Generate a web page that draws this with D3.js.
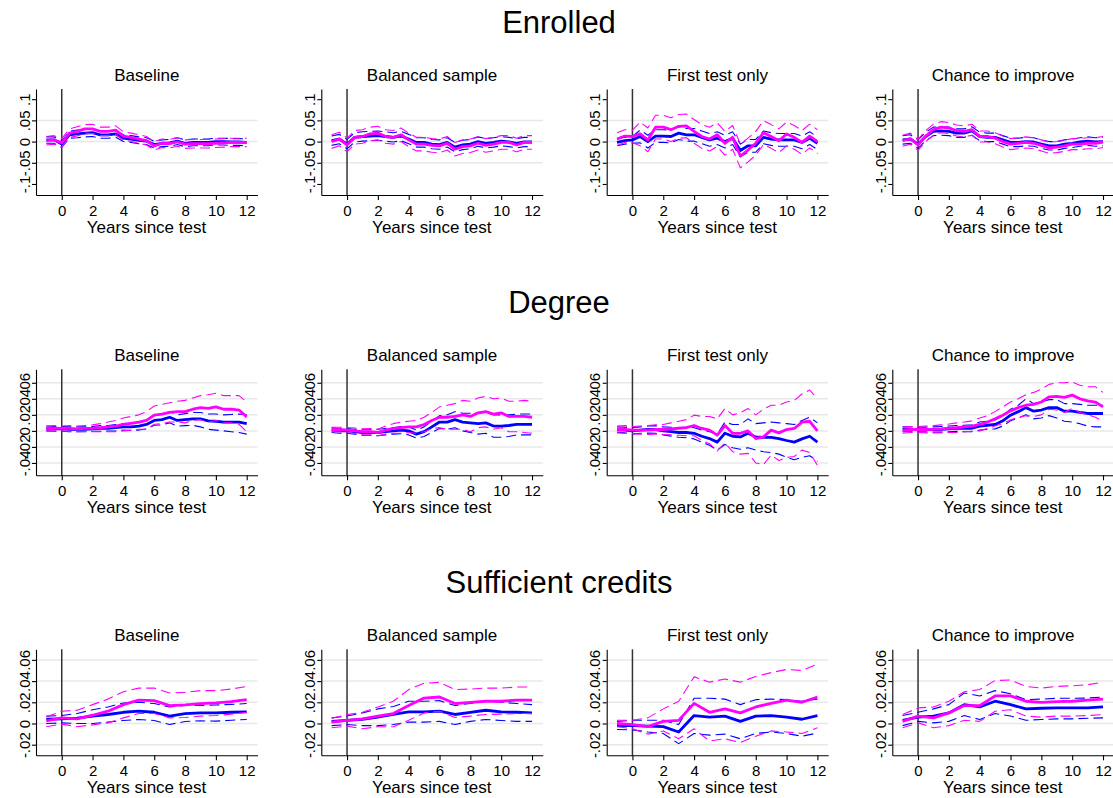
<!DOCTYPE html>
<html>
<head>
<meta charset="utf-8">
<script src="https://cdn.jsdelivr.net/npm/d3@7"></script>
<style>
body { margin: 0; background: #fff; }
svg { display: block; font-family: "Liberation Sans", Arial, sans-serif; }
</style>
</head>
<body>
<div id="chart"></div>
<script>
// x values
var yearsHalf = [-1, -0.5, 0, 0.5, 1, 1.5, 2, 2.5, 3, 3.5, 4, 4.5, 5, 5.5, 6, 6.5, 7, 7.5, 8, 8.5, 9, 9.5, 10, 10.5, 11, 11.5, 12];
var yearsFull = [-1, 0, 1, 2, 3, 4, 5, 6, 7, 8, 9, 10, 11, 12];
var xTicks = [0, 2, 4, 6, 8, 10, 12];

var rowTitles = ["Enrolled", "Degree", "Sufficient credits"];
var colTitles = ["Baseline", "Balanced sample", "First test only", "Chance to improve"];

// y ticks per row
var enrTicks = [-0.1, -0.05, 0, 0.05, 0.1];
var enrTickLabels = ["-.1", "-.05", "0", ".05", ".1"];
var enrGrid = [-0.05, 0, 0.05];
var degTicks = [-0.04, -0.02, 0, 0.02, 0.04, 0.06];
var degTickLabels = ["-.04", "-.02", "0", ".02", ".04", ".06"];
var sufTicks = [-0.02, 0, 0.02, 0.04, 0.06];
var sufTickLabels = ["-.02", "0", ".02", ".04", ".06"];

// ---- Enrolled ----
var enrBaseB   = [.004,.004,-.006,.016,.018,.020,.021,.016,.016,.018,.008,.006,.003,.001,-.007,-.004,-.003,.001,-.004,-.002,-.002,-.002,0,0,-.001,-.001,-.002];
var enrBaseBHi = [.011,.011,.002,.024,.027,.029,.029,.024,.024,.026,.016,.014,.011,.009,.001,.004,.005,.009,.004,.006,.006,.006,.008,.008,.007,.007,.006];
var enrBaseBLo = [-.004,-.004,-.014,.008,.009,.011,.012,.008,.008,.010,0,-.002,-.005,-.007,-.015,-.012,-.011,-.007,-.012,-.010,-.010,-.010,-.008,-.008,-.009,-.009,-.010];
var enrBaseM   = [.002,.004,-.003,.020,.024,.030,.030,.024,.024,.027,.013,.010,.006,.002,-.010,-.004,-.005,-.001,-.006,-.005,-.005,-.005,-.004,-.003,-.002,-.002,-.002];
var enrBaseMHi = [.012,.014,.007,.030,.035,.040,.041,.034,.034,.037,.023,.020,.016,.012,0,.006,.005,.009,.004,.005,.005,.005,.006,.007,.008,.008,.008];
var enrBaseMLo = [-.008,-.006,-.013,.010,.013,.020,.019,.014,.014,.017,.003,0,-.004,-.008,-.020,-.014,-.015,-.011,-.016,-.015,-.015,-.015,-.014,-.013,-.012,-.012,-.012];

var enrBalB   = [.002,.006,-.006,.010,.012,.013,.014,.012,.010,.013,.006,-.002,-.002,-.006,-.007,-.002,-.013,-.008,-.006,0,-.004,-.002,.001,-.001,-.004,-.001,-.001];
var enrBalBHi = [.013,.017,.005,.021,.023,.024,.025,.023,.021,.024,.017,.009,.009,.005,.004,.009,-.002,.003,.005,.011,.007,.009,.012,.010,.007,.010,.010];
var enrBalBLo = [-.009,-.005,-.017,-.001,.001,.002,.003,.001,-.001,.002,-.005,-.013,-.013,-.017,-.018,-.013,-.024,-.019,-.017,-.011,-.015,-.013,-.010,-.012,-.015,-.012,-.012];
var enrBalM   = [0,.006,-.008,.010,.012,.018,.020,.012,.010,.016,.004,-.006,-.006,-.009,-.010,-.004,-.018,-.012,-.010,-.004,-.009,-.006,-.002,-.002,-.008,-.002,-.002];
var enrBalMHi = [.016,.022,.008,.026,.028,.034,.036,.028,.026,.032,.020,.010,.010,.007,.006,.012,-.002,.004,.006,.012,.007,.010,.014,.014,.008,.014,.014];
var enrBalMLo = [-.016,-.010,-.024,-.006,-.004,.002,.004,-.004,-.006,0,-.012,-.022,-.022,-.025,-.026,-.020,-.034,-.028,-.026,-.020,-.025,-.022,-.018,-.018,-.024,-.018,-.018];

var enrFirstB   = [-.002,.002,.004,.012,0,.013,.013,.012,.020,.016,.016,.010,.004,.008,0,.008,-.021,-.010,-.010,.010,.006,.004,.004,.004,-.002,.008,-.004];
var enrFirstBHi = [.006,.010,.012,.027,.015,.028,.028,.027,.035,.031,.031,.025,.019,.023,.015,.023,-.006,.005,.005,.025,.021,.019,.019,.019,.013,.023,.011];
var enrFirstBLo = [-.010,-.006,-.004,-.003,-.015,-.002,-.002,-.003,.005,.001,.001,-.005,-.011,-.007,-.015,-.007,-.036,-.025,-.025,-.005,-.009,-.011,-.011,-.011,-.017,-.007,-.019];
var enrFirstM   = [.006,.013,.012,.018,.004,.034,.034,.028,.036,.037,.024,.012,.006,.016,-.004,.010,-.034,-.020,-.004,.021,.012,.002,.018,.010,-.002,.013,0];
var enrFirstMHi = [.021,.028,.027,.046,.032,.062,.062,.056,.064,.065,.052,.040,.034,.044,.024,.038,-.006,.008,.024,.049,.040,.030,.046,.038,.026,.041,.028];
var enrFirstMLo = [-.009,-.002,-.003,-.010,-.024,.006,.006,0,.008,.009,-.004,-.016,-.022,-.012,-.032,-.018,-.062,-.048,-.032,-.007,-.016,-.026,-.010,-.018,-.030,-.015,-.028];

var enrChanceB   = [.004,.006,-.006,.012,.024,.025,.024,.020,.020,.025,.012,.010,.010,.004,-.002,-.002,0,-.001,-.006,-.010,-.010,-.006,-.004,-.001,.001,-.001,0];
var enrChanceBHi = [.014,.016,.004,.022,.034,.035,.034,.030,.030,.035,.022,.020,.020,.014,.008,.008,.010,.009,.004,0,0,.004,.006,.009,.011,.009,.010];
var enrChanceBLo = [-.006,-.004,-.016,.002,.014,.015,.014,.010,.010,.015,.002,0,0,-.006,-.012,-.012,-.010,-.011,-.016,-.020,-.020,-.016,-.014,-.011,-.009,-.011,-.010];
var enrChanceM   = [.002,.007,-.008,.013,.028,.034,.032,.026,.024,.028,.012,.012,.008,0,-.006,-.004,-.002,-.004,-.009,-.015,-.013,-.010,-.006,-.006,-.004,-.004,-.001];
var enrChanceMHi = [.015,.020,.005,.026,.041,.047,.045,.039,.037,.041,.025,.025,.021,.013,.007,.009,.011,.009,.004,-.002,0,.003,.007,.007,.009,.009,.012];
var enrChanceMLo = [-.011,-.006,-.021,0,.015,.021,.019,.013,.011,.015,-.001,-.001,-.005,-.013,-.019,-.017,-.015,-.017,-.022,-.028,-.026,-.023,-.019,-.019,-.017,-.017,-.014];

// ---- Degree ----
var degBaseB   = [.003,.0025,.0025,.002,.002,.002,.0025,.003,.0033,.004,.005,.005,.006,.008,.013,.014,.017,.013,.014,.015,.015,.0125,.012,.011,.011,.011,.009];
var degBaseBHi = [.006,.0055,.0055,.005,.005,.005,.0055,.0065,.0068,.008,.009,.0095,.011,.0135,.019,.0205,.024,.020,.0215,.023,.023,.021,.021,.020,.0205,.021,.020];
var degBaseBLo = [0,-.0005,-.0005,-.001,-.001,-.001,-.0005,-.0005,-.0002,0,.001,.0005,.001,.0025,.007,.0075,.010,.006,.0065,.007,.005,.002,.001,0,-.001,-.002,-.004];
var degBaseM   = [.003,.0033,.003,.003,.0025,.003,.0033,.004,.005,.006,.008,.0095,.011,.013,.0196,.021,.023,.024,.024,.027,.029,.028,.030,.027,.027,.026,.0175];
var degBaseMHi = [.006,.0065,.006,.0065,.006,.0068,.0075,.009,.011,.013,.016,.018,.020,.024,.031,.033,.035,.037,.038,.041,.044,.045,.047,.044,.044,.044,.036];
var degBaseMLo = [0,0,0,-.0005,-.001,-.0008,-.0009,-.001,-.001,-.001,0,.001,.002,.002,.0082,.009,.011,.011,.010,.013,.014,.011,.013,.010,.010,.008,-.001];

var degBalB   = [.001,0,0,-.001,-.002,-.002,-.002,-.001,0,.001,0,-.004,-.001,.005,.011,.011,.014,.011,.010,.009,.010,.006,.006,.0067,.008,.008,.008];
var degBalBHi = [.004,.003,.003,.002,.0015,.0015,.002,.003,.004,.0055,.005,.001,.005,.012,.019,.020,.024,.022,.022,.022,.023,.020,.020,.020,.021,.021,.021];
var degBalBLo = [-.002,-.003,-.003,-.004,-.0055,-.0055,-.006,-.005,-.004,-.0035,-.005,-.009,-.007,-.002,.003,.002,.004,0,-.002,-.004,-.003,-.008,-.008,-.007,-.005,-.005,-.005];
var degBalM   = [.0017,.0017,.001,0,-.001,-.001,-.002,.001,.003,.004,.005,.005,.008,.013,.017,.017,.018,.020,.018,.0225,.024,.021,.0225,.018,.018,.018,.017];
var degBalMHi = [.0045,.0045,.004,.0035,.0025,.003,.002,.006,.009,.011,.012,.013,.017,.023,.030,.032,.034,.038,.037,.041,.043,.040,.041,.037,.037,.038,.037];
var degBalMLo = [-.001,-.001,-.002,-.0035,-.0045,-.005,-.006,-.004,-.003,-.003,-.002,-.003,-.001,.003,.004,.002,.002,.002,-.001,.004,.005,.002,.004,-.001,-.001,-.002,-.003];

var degFirstB   = [.0017,.001,0,.001,.0017,.0017,0,-.001,-.002,-.002,-.003,-.0067,-.0096,-.014,-.003,-.0067,-.0075,-.003,-.0075,-.008,-.008,-.0096,-.012,-.014,-.010,-.0067,-.014];
var degFirstBHi = [.005,.0045,.004,.005,.006,.0065,.005,.0045,.004,.0045,.004,.001,-.001,-.004,.011,.008,.008,.015,.009,.010,.011,.010,.009,.008,.013,.017,.010];
var degFirstBLo = [-.0015,-.0025,-.004,-.003,-.0027,-.003,-.005,-.0065,-.008,-.0085,-.010,-.014,-.018,-.024,-.017,-.021,-.023,-.021,-.024,-.026,-.027,-.029,-.033,-.036,-.033,-.031,-.038];
var degFirstM   = [.0017,.0017,.001,.001,.001,.0017,.0017,.0025,.0033,.004,.0067,.003,.001,-.0054,.0067,-.003,-.003,0,-.0096,-.0075,.001,-.0025,.0017,.003,.011,.012,0];
var degFirstMHi = [.006,.0065,.0055,.006,.0065,.0075,.008,.010,.012,.014,.0196,.018,.018,.015,.028,.020,.0225,.028,.020,.027,.032,.032,.036,.038,.046,.051,.040];
var degFirstMLo = [-.0025,-.003,-.0035,-.004,-.0045,-.004,-.0045,-.005,-.0055,-.006,-.006,-.012,-.016,-.025,-.015,-.026,-.029,-.028,-.040,-.042,-.030,-.037,-.033,-.032,-.024,-.027,-.043];

var degChanceB   = [.002,.002,.0017,.0017,.0017,.002,.0025,.003,.003,.0033,.006,.007,.008,.0125,.0196,.024,.029,.0246,.026,.029,.029,.0246,.0246,.023,.0217,.0217,.0217];
var degChanceBHi = [.005,.005,.0047,.0047,.005,.0055,.006,.0065,.007,.0075,.011,.012,.0135,.019,.027,.032,.040,.034,.036,.039,.039,.034,.034,.033,.032,.032,.032];
var degChanceBLo = [-.001,-.001,-.0013,-.0013,-.0016,-.0015,-.001,-.0005,-.001,-.001,.001,.002,.0025,.006,.0125,.016,.020,.015,.016,.019,.016,.012,.011,.009,.006,.005,.005];
var degChanceM   = [.0008,.0017,.0017,.0017,.002,.0025,.0033,.004,.005,.006,.008,.011,.015,.0196,.025,.029,.032,.033,.036,.0425,.043,.0417,.0446,.040,.0375,.036,.030];
var degChanceMHi = [.0045,.0055,.0055,.006,.0065,.0075,.0085,.010,.011,.0125,.016,.019,.024,.030,.036,.040,.045,.048,.052,.058,.060,.060,.061,.057,.055,.055,.048];
var degChanceMLo = [-.003,-.002,-.002,-.0025,-.0025,-.0025,-.002,-.002,-.001,-.0005,0,.003,.006,.009,.014,.017,.019,.018,.020,.027,.026,.023,.028,.023,.020,.017,.012];

// ---- Sufficient credits ----
var sufBaseB   = [.004,.0044,.005,.007,.0085,.0106,.0116,.0106,.007,.0094,.010,.010,.0106,.011];
var sufBaseBHi = [.007,.0075,.0094,.013,.0156,.0194,.020,.0188,.0156,.017,.017,.0175,.018,.0188];
var sufBaseBLo = [0,.0006,0,0,.0013,.0028,.0038,.0028,-.001,.0019,.0025,.0022,.0031,.0038];
var sufBaseM   = [.0025,.0053,.0044,.0078,.0116,.0178,.022,.0216,.0169,.0175,.0188,.0194,.0206,.0225];
var sufBaseMHi = [.0063,.0116,.0125,.0178,.023,.030,.0334,.0334,.0288,.0294,.031,.031,.0325,.035];
var sufBaseMLo = [-.003,-.0006,-.003,-.0013,.0006,.0053,.0094,.0094,.0053,.0056,.007,.0075,.0088,.0106];

var sufBalB   = [.002,.003,.0038,.006,.0085,.011,.011,.0116,.0085,.0106,.0125,.011,.0106,.010];
var sufBalBHi = [.0053,.007,.010,.0138,.016,.021,.021,.0216,.0169,.019,.021,.020,.0188,.0178];
var sufBalBLo = [-.002,-.001,-.002,-.002,-.001,.0013,.0013,.002,-.001,.002,.0038,.0028,.002,.002];
var sufBalM   = [.0013,.003,.0044,.007,.0094,.0169,.024,.025,.0188,.020,.021,.021,.022,.022];
var sufBalMHi = [.005,.0084,.0106,.0156,.021,.032,.038,.0388,.032,.0325,.0334,.0334,.0344,.0344];
var sufBalMLo = [-.004,-.0025,-.005,-.003,-.003,.003,.010,.0116,.0056,.007,.0085,.0088,.0094,.0094];

var sufFirstB   = [-.002,-.002,-.0025,-.003,-.008,.0075,.006,.007,.002,.007,.0075,.006,.004,.0075];
var sufFirstBHi = [.002,.003,.003,.003,-.001,.0238,.0238,.023,.0178,.0225,.023,.0225,.021,.023];
var sufFirstBLo = [-.0056,-.006,-.008,-.0094,-.019,-.0094,-.011,-.010,-.0144,-.0094,-.008,-.0094,-.012,-.009];
var sufFirstM   = [0,-.001,-.003,.002,.003,.019,.0106,.0138,.010,.0156,.019,.022,.020,.025];
var sufFirstMHi = [.003,.003,.0053,.0138,.021,.044,.039,.042,.039,.0444,.048,.051,.050,.056];
var sufFirstMLo = [-.003,-.005,-.010,-.007,-.0144,-.005,-.0166,-.0144,-.018,-.012,-.007,-.008,-.0094,-.004];

var sufChanceB   = [.003,.006,.007,.010,.0178,.0156,.021,.0178,.0138,.0144,.0147,.0147,.0147,.0156];
var sufChanceBHi = [.0075,.0106,.0138,.0178,.0288,.026,.031,.028,.0225,.023,.0238,.0238,.024,.025];
var sufChanceBLo = [-.002,.002,.0006,.002,.0075,.0038,.0094,.007,.003,.0038,.0044,.0044,.005,.0053];
var sufChanceM   = [.002,.007,.0053,.010,.0169,.0169,.026,.026,.021,.020,.0206,.021,.022,.023];
var sufChanceMHi = [.0084,.0147,.0156,.021,.030,.032,.0406,.041,.035,.0334,.035,.0356,.0366,.039];
var sufChanceMLo = [-.004,.0006,-.004,-.002,.003,.002,.0116,.013,.007,.006,.007,.007,.0075,.0084];

// layout
var width = 1113, height = 798;
var plotW = 221.5, plotH = 106;
var colLeft = [36, 321.3, 606.7, 892.3];
var rowTop = [89, 369.3, 649.3];
var xDomain = [-1.67, 12.7];

var rows = [
    { ticks: enrTicks, labels: enrTickLabels, grid: enrGrid, domain: [-0.126, 0.124], x: yearsHalf,
      series: [[enrBaseB, enrBaseBHi, enrBaseBLo, enrBaseM, enrBaseMHi, enrBaseMLo],
               [enrBalB, enrBalBHi, enrBalBLo, enrBalM, enrBalMHi, enrBalMLo],
               [enrFirstB, enrFirstBHi, enrFirstBLo, enrFirstM, enrFirstMHi, enrFirstMLo],
               [enrChanceB, enrChanceBHi, enrChanceBLo, enrChanceM, enrChanceMHi, enrChanceMLo]] },
    { ticks: degTicks, labels: degTickLabels, grid: degTicks, domain: [-0.0554, 0.0768], x: yearsHalf,
      series: [[degBaseB, degBaseBHi, degBaseBLo, degBaseM, degBaseMHi, degBaseMLo],
               [degBalB, degBalBHi, degBalBLo, degBalM, degBalMHi, degBalMLo],
               [degFirstB, degFirstBHi, degFirstBLo, degFirstM, degFirstMHi, degFirstMLo],
               [degChanceB, degChanceBHi, degChanceBLo, degChanceM, degChanceMHi, degChanceMLo]] },
    { ticks: sufTicks, labels: sufTickLabels, grid: sufTicks, domain: [-0.03, 0.07], x: yearsFull,
      series: [[sufBaseB, sufBaseBHi, sufBaseBLo, sufBaseM, sufBaseMHi, sufBaseMLo],
               [sufBalB, sufBalBHi, sufBalBLo, sufBalM, sufBalMHi, sufBalMLo],
               [sufFirstB, sufFirstBHi, sufFirstBLo, sufFirstM, sufFirstMHi, sufFirstMLo],
               [sufChanceB, sufChanceBHi, sufChanceBLo, sufChanceM, sufChanceMHi, sufChanceMLo]] }
];

var svg = d3.select("#chart").append("svg")
    .attr("width", width)
    .attr("height", height);

svg.append("rect").attr("width", width).attr("height", height).attr("fill", "#fff");

// row titles
rowTitles.forEach(function (t, r) {
    svg.append("text")
        .attr("x", 559)
        .attr("y", rowTop[r] - 56)
        .attr("text-anchor", "middle")
        .style("font-size", "31px")
        .attr("fill", "#000")
        .text(t);
});

function makePanel(r, c) {
    var row = rows[r];
    var xs = row.x;
    var xScale = d3.scaleLinear().domain(xDomain).range([0, plotW]);
    var yScale = d3.scaleLinear().domain(row.domain).range([plotH, 0]);

    var g = svg.append("g")
        .attr("transform", "translate(" + colLeft[c] + "," + rowTop[r] + ")");

    // gridlines
    g.selectAll(".grid").data(row.grid).enter().append("line")
        .attr("class", "grid")
        .attr("x1", 0).attr("x2", plotW)
        .attr("y1", function (d) { return yScale(d); })
        .attr("y2", function (d) { return yScale(d); })
        .attr("stroke", "#e8e8e8")
        .attr("stroke-width", 1.5);

    // vertical line at year 0
    g.append("line")
        .attr("x1", xScale(0)).attr("x2", xScale(0))
        .attr("y1", 0).attr("y2", plotH)
        .attr("stroke", "#333")
        .attr("stroke-width", 1.5);

    var line = d3.line()
        .x(function (d, i) { return xScale(xs[i]); })
        .y(function (d) { return yScale(d); });

    var s = row.series[c];
    var styles = [
        { d: s[1], color: "#0000ff", w: 1.1, dash: "10,5" },
        { d: s[2], color: "#0000ff", w: 1.1, dash: "10,5" },
        { d: s[0], color: "#0000ff", w: 2.8, dash: null },
        { d: s[4], color: "#ff00ff", w: 1.1, dash: "10,5" },
        { d: s[5], color: "#ff00ff", w: 1.1, dash: "10,5" },
        { d: s[3], color: "#ff00ff", w: 2.8, dash: null }
    ];
    styles.forEach(function (st) {
        g.append("path")
            .attr("d", line(st.d))
            .attr("fill", "none")
            .attr("stroke", st.color)
            .attr("stroke-width", st.w)
            .attr("stroke-dasharray", st.dash)
            .attr("stroke-linejoin", "round");
    });

    // axes
    var yAxis = d3.axisLeft(yScale)
        .tickValues(row.ticks)
        .tickFormat(function (d, i) { return row.labels[i]; })
        .tickSize(4)
        .tickSizeOuter(0);
    var ya = g.append("g").attr("class", "axis y").call(yAxis);
    ya.selectAll("text")
        .attr("x", 0)
        .attr("y", -6.5)
        .attr("dy", 0)
        .attr("transform", "rotate(-90)")
        .attr("text-anchor", "middle");

    var xAxis = d3.axisBottom(xScale)
        .tickValues(xTicks)
        .tickSize(5)
        .tickPadding(5.5)
        .tickSizeOuter(0);
    g.append("g")
        .attr("class", "axis x")
        .attr("transform", "translate(0," + plotH + ")")
        .call(xAxis);

    g.selectAll(".axis text").style("font-size", "15px").attr("fill", "#000")
        .style("font-family", "'Liberation Sans', Arial, sans-serif");
    g.selectAll(".axis path, .axis line").attr("stroke", "#000").attr("stroke-width", 1.1);

    // panel title
    g.append("text")
        .attr("x", plotW / 2)
        .attr("y", -8.3)
        .attr("text-anchor", "middle")
        .style("font-size", "17px")
        .text(colTitles[c]);

    // x-axis title
    g.append("text")
        .attr("x", xScale(5.5))
        .attr("y", plotH + 37.5)
        .attr("text-anchor", "middle")
        .style("font-size", "17px")
        .text("Years since test");
}

for (var r = 0; r < 3; r++) {
    for (var c = 0; c < 4; c++) {
        makePanel(r, c);
    }
}
</script>
</body>
</html>
